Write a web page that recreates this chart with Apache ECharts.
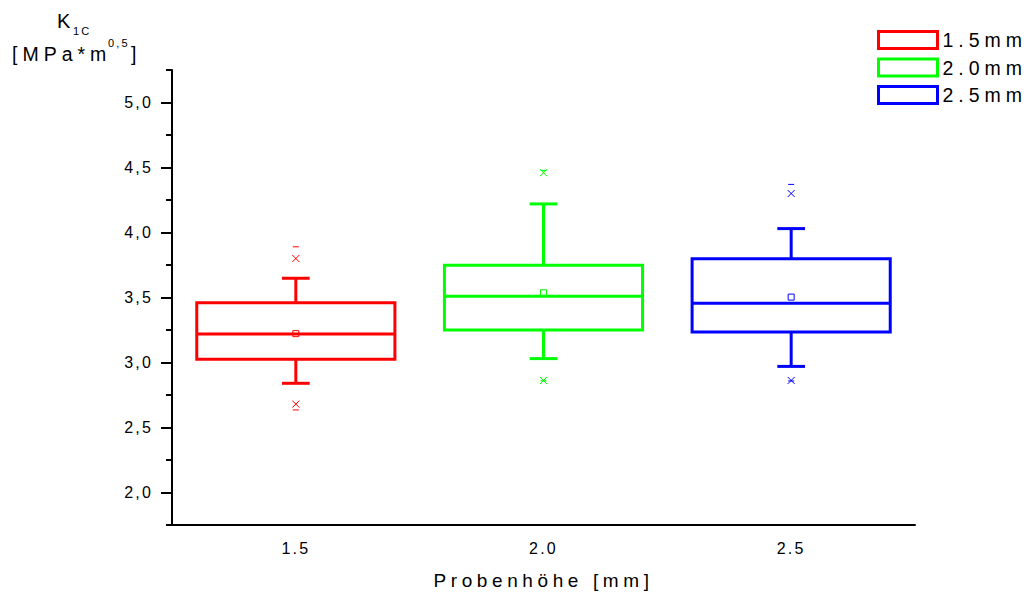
<!DOCTYPE html>
<html>
<head>
<meta charset="utf-8">
<script src="https://cdn.jsdelivr.net/npm/echarts@6/dist/echarts.min.js"></script>
<style>
html,body{margin:0;padding:0;background:#fff;}
#chart{width:1029px;height:599px;}
#chart text{letter-spacing:2.2px;}
#chart text[style*="19px"]{letter-spacing:4.6px;}
#chart text[style*="19.5px"]{letter-spacing:5px;}
</style>
</head>
<body>
<div id="chart"></div>
<script>
// ---- data ----
var categories = ['1.5', '2.0', '2.5'];
var seriesNames = ['1.5mm', '2.0mm', '2.5mm'];
var colors = ['#ff0000', '#00ff00', '#0000ff'];
var whiskerLow = [2.84, 3.03, 2.97];
var q1 = [3.025, 3.25, 3.235];
var median = [3.22, 3.51, 3.455];
var q3 = [3.46, 3.748, 3.798];
var whiskerHigh = [3.648, 4.22, 4.03];
var mean = [3.222, 3.537, 3.503];
var outlierLow = [2.68, 2.862, 2.862];
var outlierHigh = [3.80, 4.46, 4.30];
var minValue = [2.635, 2.86, 2.858];
var maxValue = [3.89, 4.478, 4.37];
var yMajorTicks = [2.0, 2.5, 3.0, 3.5, 4.0, 4.5, 5.0];
var yTickLabels = ['2,0', '2,5', '3,0', '3,5', '4,0', '4,5', '5,0'];
var yMinorTicks = [1.75, 2.25, 2.75, 3.25, 3.75, 4.25, 4.75, 5.25];

function makeRender(color) {
  return function (params, api) {
    var x = api.value(0);
    var band = api.size([1, 0])[0];
    var hw = band * 0.4;
    var cap = band * 0.056;
    function pt(v) { return api.coord([x, v]); }
    var cx = pt(api.value(1))[0];
    var yWl = pt(api.value(1))[1], yQ1 = pt(api.value(2))[1], yMed = pt(api.value(3))[1];
    var yQ3 = pt(api.value(4))[1], yWh = pt(api.value(5))[1], yMean = pt(api.value(6))[1];
    var yOl = pt(api.value(7))[1], yOh = pt(api.value(8))[1];
    var yMin = pt(api.value(9))[1], yMax = pt(api.value(10))[1];
    var thick = { stroke: color, lineWidth: 3, fill: null, lineCap: 'butt' };
    var thin = { stroke: color, lineWidth: 1, fill: null };
    function line(x1, y1, x2, y2, st) { return { type: 'line', shape: { x1: x1, y1: y1, x2: x2, y2: y2 }, style: st }; }
    function cross(y) {
      var s = 3.5;
      return [line(cx - s, y - s, cx + s, y + s, thin), line(cx - s, y + s, cx + s, y - s, thin)];
    }
    var ch = [
      { type: 'rect', shape: { x: cx - hw, y: yQ3, width: 2 * hw, height: yQ1 - yQ3 }, style: { stroke: color, lineWidth: 3, fill: null } },
      line(cx - hw, yMed, cx + hw, yMed, thick),
      line(cx, yQ3, cx, yWh, thick),
      line(cx, yQ1, cx, yWl, thick),
      line(cx - cap, yWh, cx + cap, yWh, thick),
      line(cx - cap, yWl, cx + cap, yWl, thick),
      { type: 'rect', shape: { x: cx - 3, y: yMean - 3, width: 6, height: 6 }, style: thin },
      line(cx - 3, yMin, cx + 3, yMin, thin),
      line(cx - 3, yMax, cx + 3, yMax, thin)
    ].concat(cross(yOl)).concat(cross(yOh));
    return { type: 'group', children: ch };
  };
}

var series = seriesNames.map(function (name, i) {
  return {
    name: name,
    type: 'custom',
    renderItem: makeRender(colors[i]),
    itemStyle: { color: '#ffffff', borderColor: colors[i], borderWidth: 3 },
    encode: { x: 0, y: [1, 2, 3, 4, 5] },
    data: [[i, whiskerLow[i], q1[i], median[i], q3[i], whiskerHigh[i], mean[i], outlierLow[i], outlierHigh[i], minValue[i], maxValue[i]]]
  };
});

var FONT = 'Liberation Sans, Arial, sans-serif';
var chart = echarts.init(document.getElementById('chart'), null, { renderer: 'svg' });
chart.setOption({
  backgroundColor: '#ffffff',
  animation: false,
  textStyle: { fontFamily: FONT, color: '#000' },
  grid: { left: 172, right: 114, top: 70, bottom: 74 },
  legend: {
    orient: 'vertical',
    left: 877,
    top: 30,
    padding: 0,
    itemWidth: 59,
    itemHeight: 17,
    itemGap: 7.5,
    textStyle: { fontSize: 19.5, color: '#000', fontFamily: FONT },
    data: seriesNames.map(function (n, i) {
      return { name: n, icon: 'rect', itemStyle: { color: '#ffffff', borderColor: colors[i], borderWidth: 3 } };
    })
  },
  xAxis: {
    type: 'category',
    data: categories,
    name: 'Probenhöhe [mm]',
    nameLocation: 'middle',
    nameGap: 46,
    nameTextStyle: { fontSize: 19, color: '#000' },
    axisLine: { lineStyle: { color: '#000', width: 2 } },
    axisTick: { alignWithLabel: true, length: 8, lineStyle: { width: 2, color: '#000' } },
    axisLabel: { fontSize: 16, color: '#000', margin: 15 },
    splitLine: { show: false }
  },
  yAxis: [{
    type: 'value',
    min: 1.75,
    max: 5.25,
    axisLine: { show: true, lineStyle: { color: '#000', width: 2 } },
    axisTick: { show: true, length: 11, customValues: yMajorTicks, lineStyle: { width: 2, color: '#000' } },
    axisLabel: {
      fontSize: 16, color: '#000', margin: 19, customValues: yMajorTicks,
      formatter: function (v) {
        for (var k = 0; k < yMajorTicks.length; k++) { if (Math.abs(yMajorTicks[k] - v) < 1e-6) return yTickLabels[k]; }
        return '';
      }
    },
    splitLine: { show: false }
  }, {
    type: 'value',
    position: 'left',
    offset: 0,
    min: 1.75,
    max: 5.25,
    axisLine: { show: false },
    axisTick: { show: true, length: 6, customValues: yMinorTicks, lineStyle: { width: 2, color: '#000' } },
    axisLabel: { show: false },
    splitLine: { show: false }
  }],
  graphic: [
    { type: 'text', left: 57, top: 11, style: { text: 'K', fontSize: 20, fill: '#000', fontFamily: FONT } },
    { type: 'text', left: 73, top: 25, style: { text: '1C', fontSize: 11, fill: '#000', fontFamily: FONT } },
    { type: 'text', left: 12, top: 44, style: { text: '[MPa*m', fontSize: 19.5, fill: '#000', fontFamily: FONT } },
    { type: 'text', left: 108, top: 37, style: { text: '0,5', fontSize: 11, fill: '#000', fontFamily: FONT } },
    { type: 'text', left: 131, top: 44, style: { text: ']', fontSize: 19.5, fill: '#000', fontFamily: FONT } }
  ],
  series: series
});
</script>
</body>
</html>
